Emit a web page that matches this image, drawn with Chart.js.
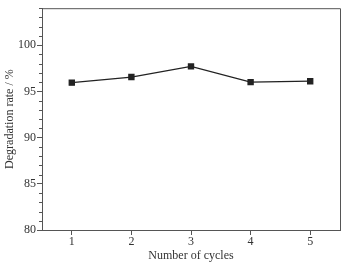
<!DOCTYPE html>
<html>
<head>
<meta charset="utf-8">
<script src="https://cdn.jsdelivr.net/npm/chart.js@4/dist/chart.umd.min.js"></script>
<style>
html,body{margin:0;padding:0;background:#fff;}
#wrap{width:347px;height:262px;}
</style>
</head>
<body>
<div id="wrap"><canvas id="c" width="347" height="262"></canvas></div>
<script>
const categories = ['1', '2', '3', '4', '5'];
const degradationRate = [95.95, 96.55, 97.7, 96.0, 96.1];
const yMin = 80, yMax = 104, yMajorStep = 5, yMinorStep = 1;
const xTitle = 'Number of cycles';
const yTitle = 'Degradation rate / %';

const axisColor = '#555';
const textColor = '#333';
const fontFamily = '"Liberation Serif", "Times New Roman", serif';

const framePlugin = {
  id: 'frame',
  afterDraw(chart) {
    const ctx = chart.ctx, a = chart.chartArea, ys = chart.scales.y;
    ctx.save();
    ctx.strokeStyle = axisColor;
    ctx.lineWidth = 1;
    ctx.beginPath();
    ctx.moveTo(a.left, a.top + 0.5);
    ctx.lineTo(a.right + 0.5, a.top + 0.5);
    ctx.lineTo(a.right + 0.5, a.bottom);
    ctx.stroke();
    // minor ticks on the y axis
    ctx.beginPath();
    for (let v = yMin; v <= yMax; v += yMinorStep) {
      if (v % yMajorStep === 0) continue;
      const py = Math.round(ys.getPixelForValue(v)) + 0.5;
      ctx.moveTo(a.left - 3, py);
      ctx.lineTo(a.left, py);
    }
    ctx.stroke();
    ctx.restore();
  }
};

new Chart(document.getElementById('c'), {
  type: 'line',
  data: {
    labels: categories,
    datasets: [{
      data: degradationRate,
      borderColor: '#222',
      backgroundColor: '#222',
      borderWidth: 1.3,
      pointStyle: 'rect',
      pointRadius: 3.6,
      pointHoverRadius: 3.6,
      fill: false,
      tension: 0
    }]
  },
  options: {
    responsive: false,
    animation: false,
    devicePixelRatio: 1,
    layout: { padding: { top: 0, right: 7, left: 3, bottom: 0 } },
    plugins: { legend: { display: false }, tooltip: { enabled: false } },
    scales: {
      x: {
        type: 'category',
        offset: true,
        grid: { display: true, drawOnChartArea: false, color: axisColor, tickLength: 5, offset: false },
        border: { display: true, color: axisColor, width: 1 },
        ticks: { color: textColor, font: { family: fontFamily, size: 12, lineHeight: 1 }, padding: 1, maxRotation: 0 },
        title: { display: true, text: xTitle, color: textColor, font: { family: fontFamily, size: 12, lineHeight: 1 }, padding: { top: 1, bottom: 0 } }
      },
      y: {
        min: yMin,
        max: yMax,
        grid: {
          display: true, drawOnChartArea: false, tickLength: 5,
          color: (ctx) => (ctx.tick && ctx.tick.value % yMajorStep === 0) ? axisColor : 'rgba(0,0,0,0)'
        },
        border: { display: true, color: axisColor, width: 1 },
        ticks: {
          stepSize: yMajorStep,
          color: textColor,
          font: { family: fontFamily, size: 12 },
          padding: 1,
          callback: (v) => (v % yMajorStep === 0 ? String(v) : '')
        },
        title: { display: true, text: yTitle, color: textColor, font: { family: fontFamily, size: 12, lineHeight: 1 }, padding: { top: 1, bottom: 1 } }
      }
    }
  },
  plugins: [framePlugin]
});
</script>
</body>
</html>
